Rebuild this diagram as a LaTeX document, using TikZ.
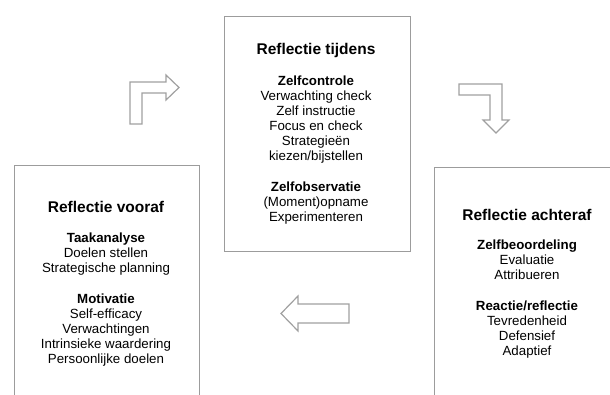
\documentclass[tikz,border=0pt]{standalone}
\usepackage{fontspec}
\setmainfont{Liberation Sans}

\definecolor{randgrijs}{HTML}{9C9C9C}
\definecolor{pijlgrijs}{HTML}{A0A0A0}

\def \tekstgrootte {\fontsize{13.3}{15}\selectfont}
\def \witregel {16pt}

\tikzset{
  blok/.style={draw=randgrijs, line width=1.3pt, fill=white, inner sep=0pt, anchor=north west},
  titel/.style={font=\fontsize{15.5}{18}\selectfont\bfseries, inner sep=0pt},
  inhoud/.style={font=\tekstgrootte, align=center, inner sep=0pt},
  pijl/.style={draw=pijlgrijs, line width=1.2pt, line join=miter}
}

\begin{document}
\begin{tikzpicture}[x=1pt, y=-1pt]
\useasboundingbox (0,0) rectangle (610,394);
\clip (0,0) rectangle (610,394);

% kaders
\node[blok, minimum width=186pt, minimum height=235pt] (tijdens) at (224,16) {};
\node[blok, minimum width=185pt, minimum height=250pt] (vooraf) at (14,165) {};
\node[blok, minimum width=190pt, minimum height=250pt] (achteraf) at (434,167) {};

% reflectie tijdens
\node[titel] (tijdenskop) at (316,50) {Reflectie tijdens};
\node[inhoud] (tijdenstekst) at (316,150) {\textbf{Zelfcontrole}\\ Verwachting check\\ Zelf instructie\\ Focus en check\\ Strategieën\\ kiezen/bijstellen\\[\witregel] \textbf{Zelfobservatie}\\ (Moment)opname\\ Experimenteren};

% reflectie vooraf
\node[titel] (vooraafkop) at (106,207) {Reflectie vooraf};
\node[inhoud] (vooraftekst) at (106,300) {\textbf{Taakanalyse}\\ Doelen stellen\\ Strategische planning\\[\witregel] \textbf{Motivatie}\\ Self-efficacy\\ Verwachtingen\\ Intrinsieke waardering\\ Persoonlijke doelen};

% reflectie achteraf
\node[titel] (achterafkop) at (527,215) {Reflectie achteraf};
\node[inhoud] (achteraftekst) at (527,299) {\textbf{Zelfbeoordeling}\\ Evaluatie\\ Attribueren\\[\witregel] \textbf{Reactie/reflectie}\\ Tevredenheid\\ Defensief\\ Adaptief};

% pijlen
\draw[pijl] (130,124) -- (130,82) -- (166,82) -- (166,75) -- (179,87.5) -- (166,100) -- (166,93) -- (142,93) -- (142,124) -- cycle; % vooraf -> tijdens
\draw[pijl] (459,84) -- (502,84) -- (502,120) -- (509,120) -- (496,133) -- (483,120) -- (490,120) -- (490,95) -- (459,95) -- cycle; % tijdens -> achteraf
\draw[pijl] (349,304) -- (298,304) -- (298,296) -- (281,313.5) -- (298,331) -- (298,323) -- (349,323) -- cycle; % achteraf -> vooraf
\end{tikzpicture}
\end{document}
